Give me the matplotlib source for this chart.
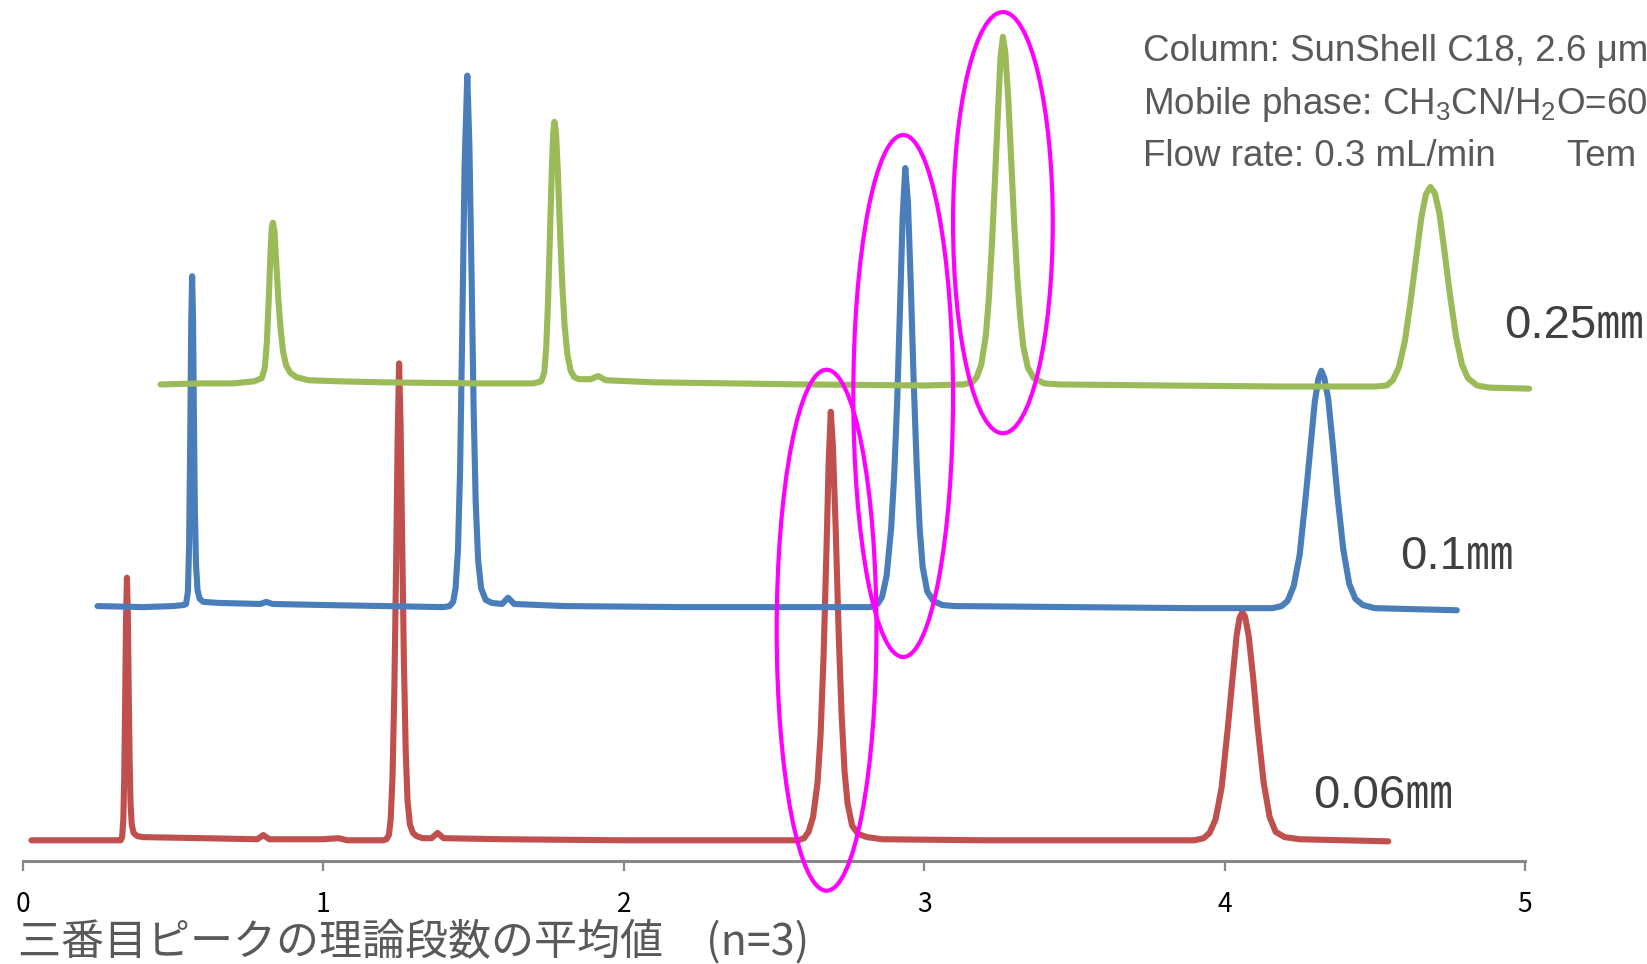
import numpy as np
import matplotlib
matplotlib.use("Agg")
import matplotlib.pyplot as plt
from matplotlib.patches import Ellipse

plt.rcParams['font.family'] = ['Liberation Sans', 'Noto Sans CJK JP', 'DejaVu Sans']
plt.rcParams['mathtext.fontset'] = 'custom'
plt.rcParams['mathtext.rm'] = 'Liberation Sans'
plt.rcParams['mathtext.it'] = 'Liberation Sans'

# --- data (time in min, signal in arbitrary units) ---
red_t = [0.028, 0.20, 0.325, 0.330, 0.334, 0.337, 0.340, 0.343, 0.346, 0.349, 0.352,
         0.355, 0.358, 0.362, 0.368, 0.38, 0.40, 0.60, 0.78, 0.80, 0.82, 1.00, 1.05,
         1.08, 1.20, 1.21, 1.218, 1.224, 1.230, 1.236, 1.242, 1.247, 1.252, 1.257,
         1.262, 1.268, 1.274, 1.280, 1.288, 1.298, 1.31, 1.33, 1.36, 1.38, 1.40, 1.60,
         2.00, 2.40, 2.58, 2.60, 2.615, 2.63, 2.645, 2.655, 2.665, 2.675, 2.682, 2.689,
         2.696, 2.705, 2.715, 2.725, 2.735, 2.745, 2.76, 2.78, 2.81, 2.86, 3.20, 3.60,
         3.90, 3.93, 3.95, 3.97, 3.99, 4.01, 4.025, 4.04, 4.05, 4.059, 4.068, 4.08,
         4.095, 4.11, 4.13, 4.15, 4.17, 4.20, 4.25, 4.545]
red_y = [0, 0, 0, 3, 20, 60, 130, 210, 250, 215, 140,
         75, 35, 15, 7, 4, 3, 2, 1, 5, 1, 1, 2,
         0, 0, 1, 5, 20, 60, 140, 260, 380, 454, 395,
         290, 170, 85, 38, 15, 7, 4, 2, 2, 7, 2, 1,
         0, 0, 0, 2, 8, 22, 55, 100, 175, 280, 360, 408,
         375, 300, 200, 120, 65, 35, 14, 6, 3, 1, 0, 0,
         0, 2, 7, 20, 50, 105, 150, 195, 212, 217, 213, 195,
         155, 108, 55, 22, 8, 3, 1, -1]

blue_t = [0.248, 0.40, 0.50, 0.535, 0.543, 0.549, 0.553, 0.557, 0.560, 0.563, 0.566,
          0.569, 0.572, 0.576, 0.581, 0.588, 0.60, 0.65, 0.79, 0.81, 0.83, 1.00, 1.20,
          1.40, 1.42, 1.432, 1.44, 1.448, 1.455, 1.462, 1.470, 1.479, 1.486, 1.493,
          1.500, 1.507, 1.515, 1.525, 1.54, 1.56, 1.595, 1.615, 1.635, 1.80, 2.20,
          2.60, 2.82, 2.845, 2.86, 2.875, 2.89, 2.90, 2.91, 2.92, 2.928, 2.937, 2.946,
          2.955, 2.965, 2.975, 2.985, 2.995, 3.01, 3.03, 3.06, 3.10, 3.50, 3.90, 4.16,
          4.19, 4.21, 4.23, 4.25, 4.27, 4.285, 4.30, 4.312, 4.322, 4.332, 4.345, 4.36,
          4.375, 4.395, 4.415, 4.435, 4.46, 4.50, 4.773]
blue_y = [1, 0, 1, 2, 3, 15, 60, 170, 270, 315, 275,
          180, 95, 40, 16, 8, 5, 4, 3, 5, 3, 2, 1,
          0, 1, 5, 18, 55, 130, 260, 420, 506, 440, 320,
          190, 100, 45, 18, 7, 4, 3, 9, 3, 1, 0,
          0, 0, 3, 10, 30, 75, 125, 195, 290, 370, 418, 385,
          310, 215, 135, 75, 38, 15, 6, 2, 1, 0, -1, -1,
          1, 6, 20, 50, 105, 150, 195, 217, 225, 218, 198, 155,
          108, 55, 22, 8, 2, -1, -3]

green_t = [0.458, 0.60, 0.70, 0.77, 0.795, 0.805, 0.812, 0.818, 0.824, 0.828, 0.832,
           0.837, 0.843, 0.850, 0.858, 0.866, 0.876, 0.89, 0.91, 0.95, 1.05, 1.20, 1.50,
           1.70, 1.725, 1.735, 1.742, 1.748, 1.754, 1.760, 1.765, 1.769, 1.774, 1.780,
           1.787, 1.795, 1.803, 1.812, 1.823, 1.835, 1.85, 1.89, 1.915, 1.94, 2.10, 2.60,
           3.00, 3.13, 3.16, 3.175, 3.19, 3.205, 3.215, 3.225, 3.235, 3.245, 3.254, 3.262,
           3.270, 3.28, 3.29, 3.30, 3.31, 3.32, 3.33, 3.345, 3.365, 3.40, 3.45, 3.80,
           4.20, 4.50, 4.54, 4.56, 4.58, 4.60, 4.62, 4.64, 4.655, 4.67, 4.685, 4.70,
           4.715, 4.73, 4.75, 4.77, 4.79, 4.81, 4.84, 4.88, 5.014]
green_y = [-1, 0, 0, 2, 5, 15, 40, 80, 125, 148, 153,
           145, 115, 80, 50, 30, 17, 10, 6, 3, 2, 1, 0,
           0, 2, 10, 35, 80, 140, 200, 238, 249, 240, 205,
           150, 95, 55, 28, 12, 6, 4, 4, 7, 3, 1, -1,
           -2, -1, 1, 6, 18, 45, 80, 130, 190, 255, 310, 330,
           315, 270, 210, 150, 100, 62, 35, 15, 5, 0, -1, -2,
           -3, -3, -2, 3, 15, 40, 80, 125, 158, 180, 187, 181,
           162, 130, 85, 45, 18, 5, -2, -4, -5]

offsets = [0, 222, 435]
colors = ['#C0504D', '#4A7EBB', '#9BBB59']
labels = ['0.06㎜', '0.1㎜', '0.25㎜']
label_x = [4.294, 4.584, 4.93]
label_y = [42, 270, 490]

# highlighted third peaks: centre t, centre y, width, height
ell_t = [2.675, 2.930, 3.262]
ell_y = [200, 423, 588]
ell_w = [0.332, 0.332, 0.332]
ell_h = [496, 497, 401]

xticks = [0, 1, 2, 3, 4, 5]

fig = plt.figure(figsize=(16.47, 9.64), dpi=100)
ax = fig.add_axes([23 / 1647, 1 - 861.3 / 964, (1525 - 23) / 1647, 861.3 / 964])

traces = [(red_t, red_y), (blue_t, blue_y), (green_t, green_y)]
for (t, y), off, c in zip(traces, offsets, colors):
    ax.plot(t, np.array(y) + off, color=c, lw=4.4, solid_joinstyle='round',
            solid_capstyle='round', clip_on=False)

for xc, yc, w, h in zip(ell_t, ell_y, ell_w, ell_h):
    ax.add_patch(Ellipse((xc, yc), w, h, fill=False, edgecolor='#FF00FF',
                         lw=3.0, clip_on=False, zorder=5))

for lx, ly, s in zip(label_x, label_y, labels):
    ax.text(lx, ly, s, fontsize=34, color='#404040', va='center', ha='left')

ax.set_xlim(0, 5)
ax.set_ylim(-20, 800)
ax.set_xticks(xticks)
ax.set_xticklabels([str(v) for v in xticks], family=['Noto Sans CJK JP'],
                   fontsize=19, color='black')
ax.set_yticks([])
for s in ['left', 'right', 'top']:
    ax.spines[s].set_visible(False)
ax.spines['bottom'].set_color('#888888')
ax.spines['bottom'].set_linewidth(2.2)
ax.tick_params(axis='x', direction='out', length=7.5, width=1.6,
               color='#888888', pad=14)

info = ["Column: SunShell C18, 2.6 μm",
        "Mobile phase: CH$_3$CN/H$_2$O=60",
        "Flow rate: 0.3 mL/min       Tem"]
for i, s in enumerate(info):
    fig.text(1143 / 1647, 1 - (51 + 53 * i) / 964, s, fontsize=26.5,
             color='#595959', va='center', ha='left')

fig.text(18 / 1647, 1 - 942 / 964, '三番目ピークの理論段数の平均値　(n=3)',
         family=['Noto Sans CJK JP', 'DejaVu Sans'], fontsize=31,
         color='#595959', va='center', ha='left')

fig.savefig('out.png', dpi=100)
